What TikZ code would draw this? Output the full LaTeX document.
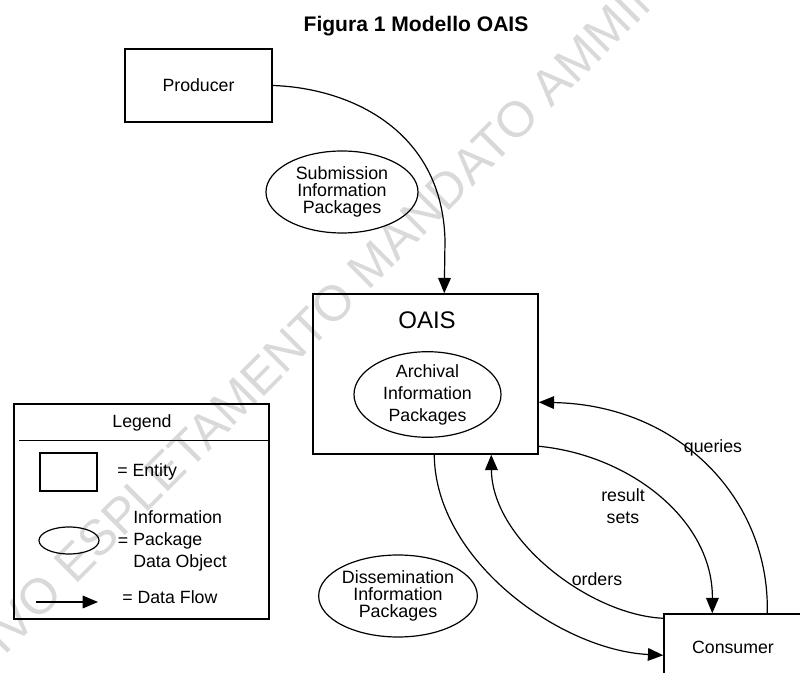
\documentclass[tikz,border=0pt]{standalone}
\usepackage{fontspec}
\setmainfont{Liberation Sans}
\usetikzlibrary{arrows.meta,calc,shapes.geometric}
\begin{document}
\begin{tikzpicture}[x=0.75pt,y=-0.75pt,
  box/.style={draw,line width=1.1pt,rectangle,inner sep=0pt},
  pkg/.style={draw,line width=0.9pt,ellipse,inner sep=0pt,align=center},
  lbl/.style={font=\fontsize{13.3}{16.5}\selectfont},
  tight/.style={font=\fontsize{13.4}{12.75}\selectfont},
  flow/.style={line width=0.9pt,-{Triangle[length=11.5pt,width=9.5pt]}}]
\useasboundingbox (0,0) rectangle (800,673);
\clip (0,0) rectangle (800,673);
% watermark
\node[rotate=45,text=black!15,font=\fontsize{37.5}{40}\selectfont] (wm) at (313,323) {SIVO ESPLETAMENTO MANDATO AMMIN};
% title
\node[font=\fontsize{15.8}{19}\bfseries] (title) at (416,26) {Figura 1 Modello OAIS};
% entities
\node[box,lbl,minimum width=110.25pt,minimum height=54.75pt] (prod) at (198.5,85.5) {Producer};
\node[box,minimum width=168.75pt,minimum height=120pt] (oais) at (425.5,374) {};
\node[font=\fontsize{18}{20}\selectfont] (oaist) at (427,320) {OAIS};
\node[box,lbl,minimum width=103.5pt,minimum height=49.5pt] (cons) at (733,647) {Consumer};
% packages
\node[pkg,lbl,minimum width=110.25pt,minimum height=63.75pt] (aip) at (427.5,394.5) {Archival\\Information\\Packages};
\node[pkg,tight,minimum width=114pt,minimum height=61.5pt] (sip) at (342,192) {Submission\\Information\\Packages};
\node[pkg,tight,minimum width=114pt,minimum height=61.5pt] (dip) at (398,596) {Dissemination\\Information\\Packages};
% flows
\draw[flow] (prod.east) .. controls (350,88) and (442,130) .. (445,240) -- ($(oais.north west)+(132,0)$);
\draw[flow] ($(cons.north west)+(104,0)$) .. controls (770,500) and (680,405) .. ($(oais.north east)+(0,109)$);
\draw[flow] ($(oais.north east)+(0,153)$) .. controls (630,455) and (713,520) .. ($(cons.north west)+(49,0)$);
\draw[flow] ($(cons.north west)+(0,5)$) .. controls (590,615) and (492,540) .. ($(oais.south west)+(179,0)$);
\draw[flow] ($(oais.south west)+(122,0)$) .. controls (435,560) and (560,650) .. ($(cons.north west)+(0,42)$);
\node[lbl] (lq) at (713,448) {queries};
\node[lbl,align=center] (lr) at (623,506) {result\\sets};
\node[lbl] (lo) at (597,579) {orders};
% legend
\node[box,minimum width=191.25pt,minimum height=161.25pt] (leg) at (141.5,511.5) {};
\draw[line width=1.1pt] ($(leg.north west)+(6,37)$) -- ($(leg.north east)+(0,37)$);
\node[lbl] (legt) at (142,423) {Legend};
\node[box,minimum width=42.75pt,minimum height=28.5pt] (lent) at (68.5,472) {};
\node[lbl,anchor=west,inner sep=0pt] (lentt) at (117,472) {= Entity};
\node[pkg,minimum width=45pt,minimum height=20.25pt] (lell) at (69,540.5) {};
\node[lbl,inner sep=0pt] (leq) at (123,542) {=};
\node[lbl,anchor=west,align=left,inner sep=0pt] (lellt) at (133,541) {Information\\Package\\Data Object};
\coordinate (la) at (36,602);
\coordinate (lb) at (98,602);
\draw[flow] (la) -- (lb);
\node[lbl,anchor=west,inner sep=0pt] (lflow) at (122,597) {= Data Flow};
\end{tikzpicture}
\end{document}
